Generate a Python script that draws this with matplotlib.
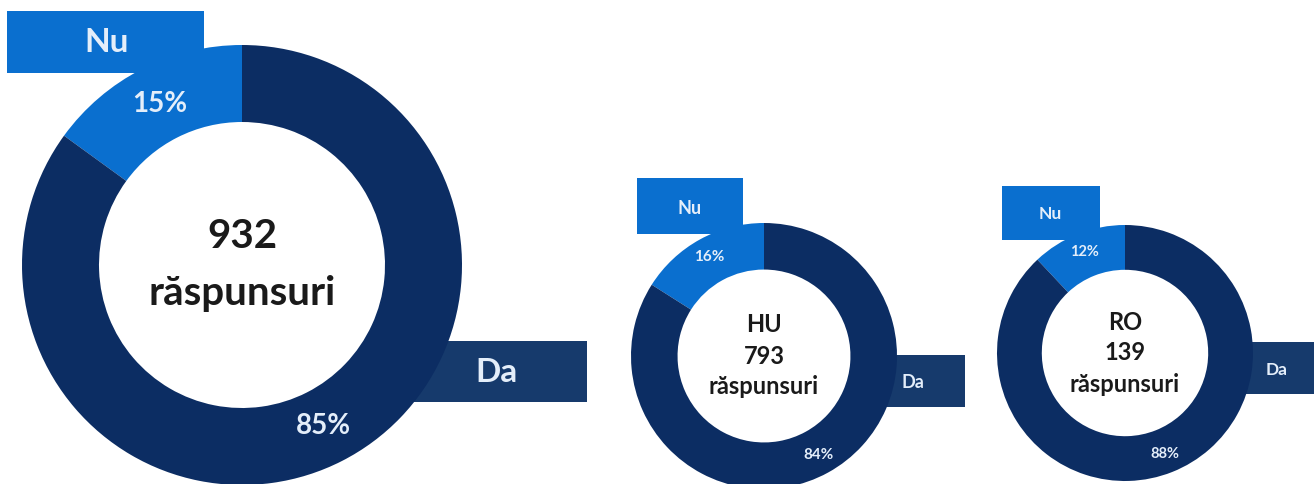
import matplotlib.pyplot as plt
from matplotlib.patches import Rectangle

# data
regions = ['', 'HU', 'RO']
responses = [932, 793, 139]
nu_pct = [15, 16, 12]
da_pct = [85, 84, 88]
answers = ['Nu', 'Da']

# colours
c_nu = '#0a6fcf'
c_da = '#0c2d63'
c_da_box = '#163a6c'
c_light = '#e4eefa'

plt.rcParams['font.family'] = ['Lato', 'DejaVu Sans']

H = 484
fig = plt.figure(figsize=(13.14, 4.84), dpi=100)
ax = fig.add_axes([0, 0, 1, 1])

# layout in pixel coords (y from top)
centers = [(242, 265), (764, 356), (1125, 353)]
radii = [220, 133, 128]
pct_dist = [0.82, 0.85, 0.85]
pct_size = [20, 11, 10.5]
nu_boxes = [(7, 11, 197, 62), (637, 178, 106, 56), (1002, 186, 98, 54)]
da_boxes = [(400, 341, 187, 61), (870, 355, 95, 52), (1228, 342, 86, 52)]
nu_text = [(107, 43), (690, 208), (1050, 214)]
da_text = [(497, 373), (913, 382), (1277, 370)]
lab_size = [24, 13, 12.5]
mid_size = [29, 17, 17]
line_gap = [56, 31, 31]

for i in range(3):
    cx, cy = centers[i]
    R = radii[i]

    # label boxes sit behind the ring
    for (bx, by, bw, bh), col in ((nu_boxes[i], c_nu), (da_boxes[i], c_da_box)):
        ax.add_patch(Rectangle((bx, H - by - bh), bw, bh, facecolor=col,
                               edgecolor='none', zorder=1))

    wedges, _, autotexts = ax.pie([nu_pct[i], da_pct[i]], colors=[c_nu, c_da],
                                  startangle=90, counterclock=True,
                                  center=(cx, H - cy), radius=R,
                                  autopct=lambda p: f'{p:.0f}%',
                                  pctdistance=pct_dist[i],
                                  wedgeprops=dict(width=0.35 * R, edgecolor='none'),
                                  textprops=dict(color=c_light, fontsize=pct_size[i],
                                                 fontweight='bold'))
    for w in wedges:
        w.set_zorder(2)
    for t in autotexts:
        t.set_zorder(3)

    ax.text(nu_text[i][0], H - nu_text[i][1], answers[0], color=c_light,
            fontsize=lab_size[i], fontweight='bold', ha='center', va='center', zorder=3)
    ax.text(da_text[i][0], H - da_text[i][1], answers[1], color=c_light,
            fontsize=lab_size[i], fontweight='bold', ha='center', va='center', zorder=3)

    lines = [str(responses[i]), 'răspunsuri']
    if regions[i]:
        lines = [regions[i]] + lines
    n = len(lines)
    for k, s in enumerate(lines):
        yy = cy + (k - (n - 1) / 2) * line_gap[i]
        ax.text(cx, H - yy, s, color='#1a1a1a', fontsize=mid_size[i],
                fontweight='bold', ha='center', va='center', zorder=3)

ax.set_xlim(0, 1314)
ax.set_ylim(0, H)
ax.set_aspect('equal')
ax.axis('off')

fig.savefig('out.png', dpi=100)
